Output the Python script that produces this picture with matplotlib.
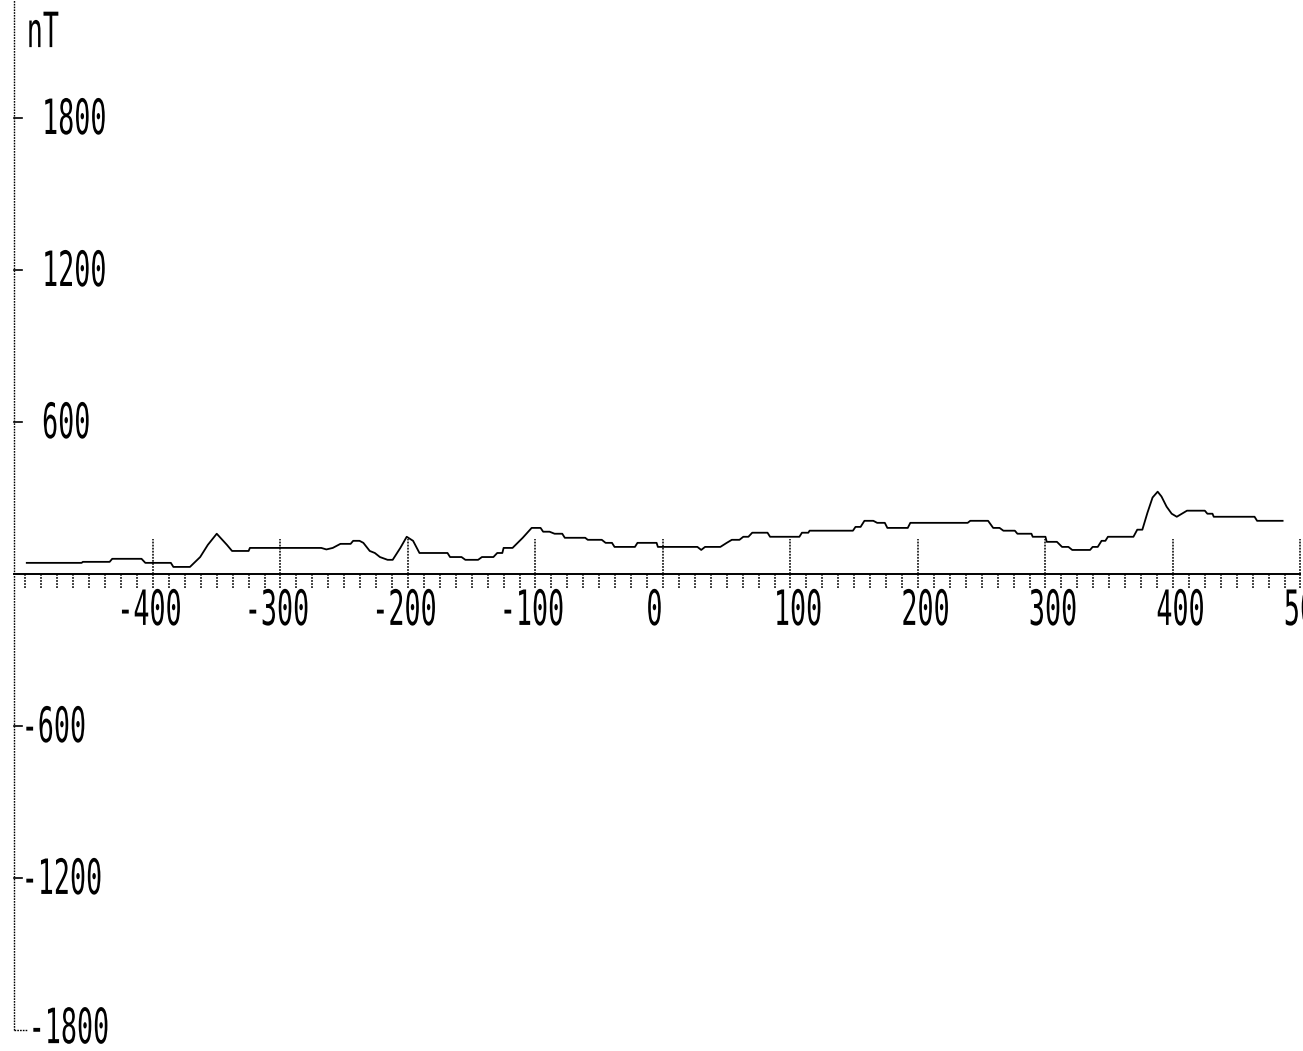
import numpy as np
import matplotlib
matplotlib.use('Agg')
import matplotlib.pyplot as plt
from matplotlib.patheffects import AbstractPathEffect
from matplotlib.transforms import Affine2D

# magnetic profile (distance, nT)
profile_x = [-499, -456, -455, -434, -432, -409, -406, -386, -384, -371,
             -363, -357, -350, -342, -338, -325, -324, -268, -264, -259,
             -253, -245, -243, -238, -235, -230, -226, -222, -216, -212,
             -206, -201, -196, -191, -169, -167, -158, -155, -145, -142,
             -133, -130, -126, -125, -118, -114, -110, -103, -96, -94,
             -89, -85, -79, -77, -61, -59, -48, -45, -40, -38,
             -22, -20, -5, -4, 27, 30, 33, 45, 50, 54,
             60, 63, 67, 70, 82, 84, 107, 109, 114, 115,
             149, 151, 155, 158, 165, 168, 174, 176, 192, 194,
             239, 241, 255, 259, 264, 267, 276, 278, 289, 290,
             300, 301, 309, 313, 318, 321, 335, 337, 341, 344,
             347, 349, 369, 372, 376, 380, 384, 388, 391, 395,
             399, 403, 407, 411, 425, 427, 431, 432, 464, 466,
             486]
profile_y = [44, 44, 48, 48, 60, 60, 44, 44, 28, 28,
             67, 115, 159, 115, 91, 91, 103, 103, 97, 103,
             119, 119, 131, 131, 123, 91, 83, 67, 56, 56,
             103, 147, 131, 83, 83, 67, 67, 56, 56, 67,
             67, 83, 83, 103, 103, 123, 143, 182, 182, 167,
             167, 159, 159, 143, 143, 135, 135, 123, 123, 107,
             107, 123, 123, 107, 107, 95, 107, 107, 123, 135,
             135, 147, 147, 163, 163, 147, 147, 163, 163, 171,
             171, 186, 186, 210, 210, 202, 202, 182, 182, 202,
             202, 210, 210, 182, 182, 171, 171, 159, 159, 147,
             147, 127, 127, 107, 107, 95, 95, 107, 107, 131,
             131, 147, 147, 175, 175, 242, 302, 325, 306, 266,
             238, 226, 238, 250, 250, 238, 238, 226, 226, 210,
             210]

x_ticks = [-400, -300, -200, -100, 0, 100, 200, 300, 400, 500]
x_labels = ['-400', '-300', '-200', '-100', '0', '100', '200', '300', '400', '500']
y_ticks = [1800, 1200, 600, -600, -1200, -1800]
y_labels = ['1800', '1200', '600', '-600', '-1200', '-1800']
unit_label = 'nT'


class Squeeze(AbstractPathEffect):
    # narrow the glyphs horizontally, like the dot-matrix printer font
    def __init__(self, sx):
        super().__init__()
        self.sx = sx

    def draw_path(self, renderer, gc, tpath, affine, rgbFace=None):
        x0 = affine.get_matrix()[0, 2]
        sq = Affine2D().translate(-x0, 0).scale(self.sx, 1).translate(x0, 0)
        renderer.draw_path(gc, tpath, affine + sq, rgbFace)


font = dict(family='DejaVu Sans Mono', fontsize=35, color='black',
            ha='left', va='baseline', path_effects=[Squeeze(0.55)])

fig = plt.figure(figsize=(13.03, 10.51), dpi=100)
ax = fig.add_axes([0, 0, 1, 1])
ax.set_xlim(-520, 502)
ax.set_ylim(-1883, 2266)
ax.axis('off')

ink = 'black'
dots = (0, (1.2, 0.8))

# vertical axis with the little L at the bottom
ax.plot([-509, -509], [-1800, 2266], color=ink, lw=1.0, ls=dots)
ax.plot([-509, -499], [-1800, -1800], color=ink, lw=1.0, ls=dots)
for yt in y_ticks[:-1]:
    ax.plot([-509, -503], [yt, yt], color=ink, lw=1.2)

# horizontal axis at zero
ax.plot([-509, 500], [0, 0], color=ink, lw=1.4)
ax.vlines(np.arange(-500, 501, 12.5), -55, 0, color=ink, lw=1.1, ls=dots)
ax.vlines(x_ticks, 0, 138, color=ink, lw=1.1, ls=dots)

# the profile
ax.plot(profile_x, profile_y, color=ink, lw=1.3)

# labels
for xt, lab in zip(x_ticks, x_labels):
    off = -28 if lab.startswith('-') else -13
    ax.text(xt + off, -201, lab, **font)

for yt, lab in zip(y_ticks, y_labels):
    if lab == '-1800':
        xl, yl = -497.5, yt - 52
    elif lab.startswith('-'):
        xl, yl = -503, yt - 63
    else:
        xl, yl = -487, yt - 63
    ax.text(xl, yl, lab, **font)

ax.text(-499, 2080, unit_label, **font)

fig.savefig('out.png', dpi=100, facecolor='white')
